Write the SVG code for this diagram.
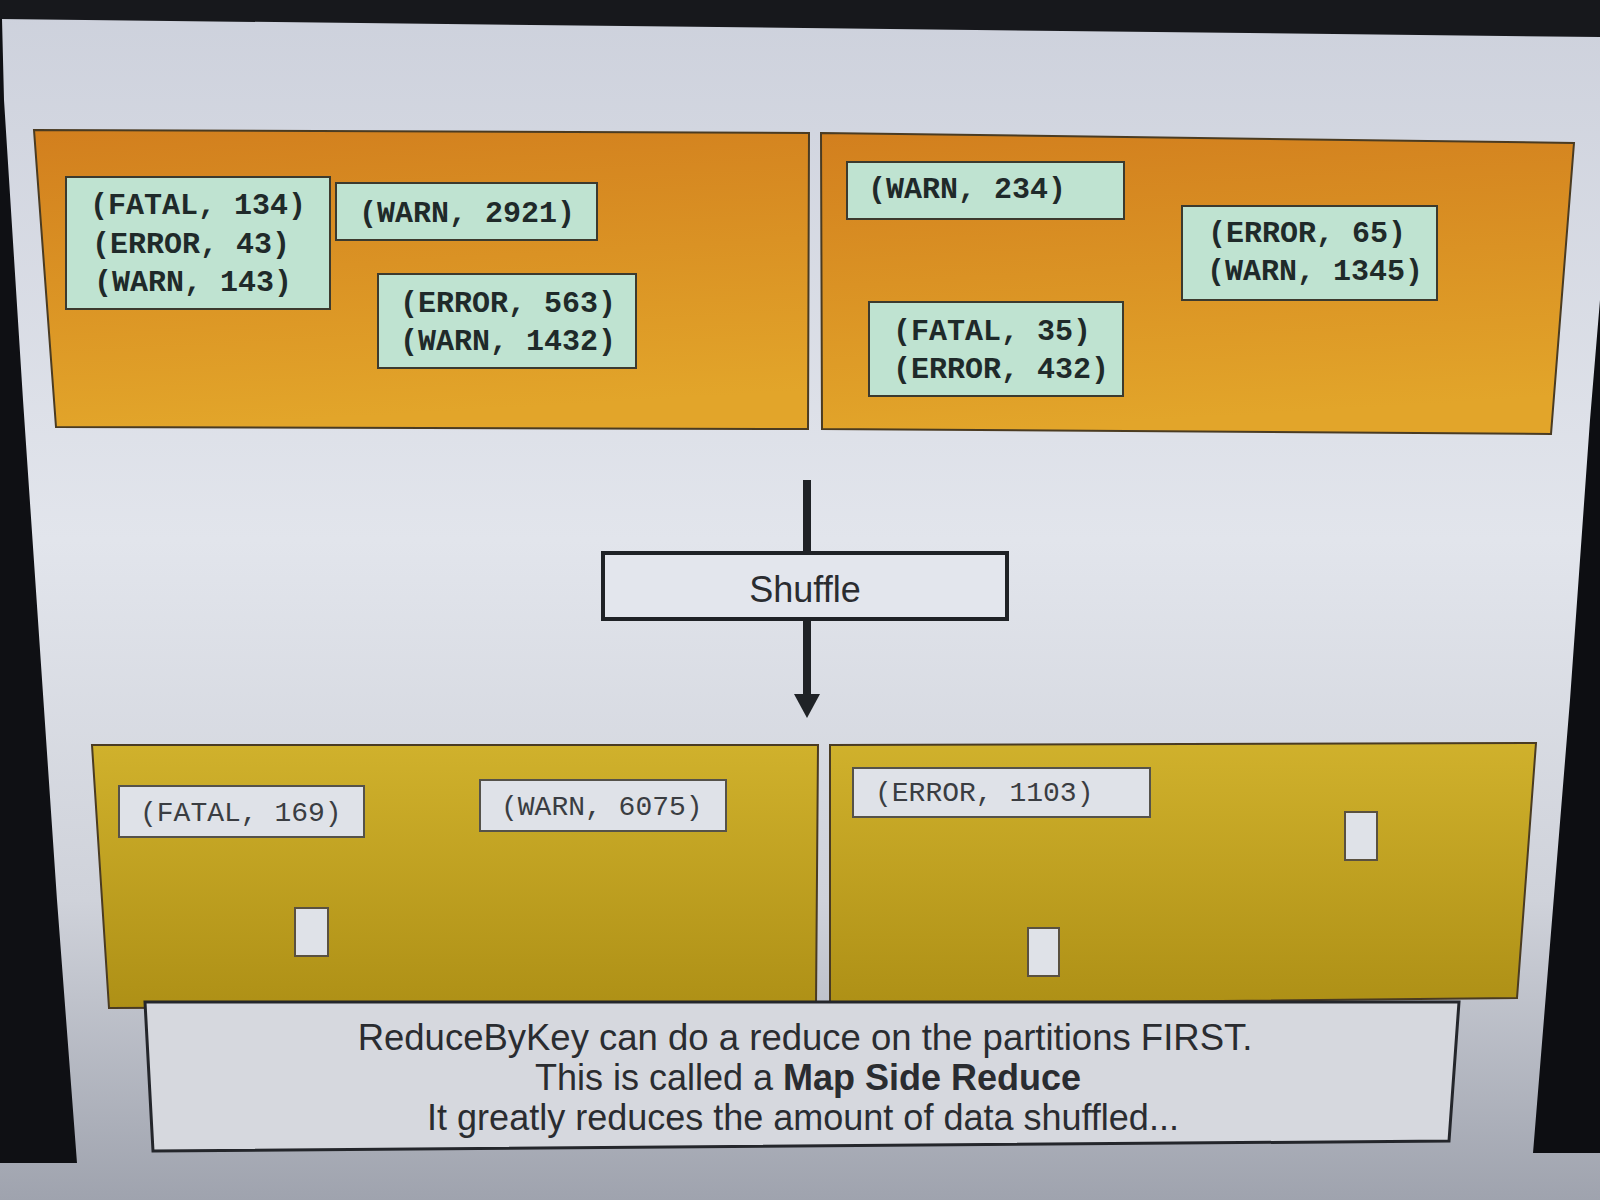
<svg xmlns="http://www.w3.org/2000/svg" width="1600" height="1200" viewBox="0 0 1600 1200">
  <defs>
    <linearGradient id="bg" x1="0" y1="0" x2="0" y2="1">
      <stop offset="0" stop-color="#cdd1dc"/>
      <stop offset="0.45" stop-color="#e2e5ec"/>
      <stop offset="0.75" stop-color="#cfd2da"/>
      <stop offset="1" stop-color="#9fa3ae"/>
    </linearGradient>
    <linearGradient id="orange" x1="0" y1="0" x2="0.15" y2="1">
      <stop offset="0" stop-color="#d27f1e"/>
      <stop offset="1" stop-color="#e2a52a"/>
    </linearGradient>
    <linearGradient id="yellow" x1="0" y1="0" x2="0" y2="1">
      <stop offset="0" stop-color="#d0b12c"/>
      <stop offset="1" stop-color="#ae9016"/>
    </linearGradient>
    <marker id="arrowhead" viewBox="0 0 24 26" refX="1" refY="13" markerWidth="24" markerHeight="26" markerUnits="userSpaceOnUse" orient="auto">
      <path d="M0,0 L24,13 L0,26 Z" fill="#1f2226"/>
    </marker>
    <style>
      .part { stroke: #4a3b22; stroke-width: 2; }
      .top { fill: url(#orange); }
      .bot { fill: url(#yellow); }
      .kv { fill: #bfe3d1; stroke: #3c3a2e; stroke-width: 2; }
      .kvr { fill: #dfe2e8; stroke: #55524a; stroke-width: 2; }
      .blank { fill: #dfe2e8; stroke: #5a5140; stroke-width: 2; }
      .mono { font-family: "Liberation Mono", "DejaVu Sans Mono", monospace; font-size: 30px; font-weight: bold; fill: #1f2a2a; }
      .monor { font-family: "Liberation Mono", "DejaVu Sans Mono", monospace; font-size: 28px; fill: #3a3d42; }
      .sans { font-family: "Liberation Sans", Arial, sans-serif; fill: #2a2c30; }
      .conn { stroke: #1f2226; stroke-width: 8; fill: none; }
    </style>
  </defs>

  <!-- screen background -->
  <rect x="0" y="0" width="1600" height="1200" fill="url(#bg)"/>
  <polygon points="0,0 1600,0 1600,37 0,19" fill="#17181c"/>
  <polygon points="0,19 2,19 4,100 23,400 40,650 57,900 77,1163 0,1163" fill="#0f1014"/>
  <polygon points="1600,300 1590,420 1570,700 1533,1153 1600,1153" fill="#0d0e12"/>

  <!-- connectors -->
  <g id="connectors">
    <line class="conn" x1="807" y1="480" x2="807" y2="695" marker-end="url(#arrowhead)"/>
  </g>

  <!-- map partitions -->
  <g id="partition-top-left">
    <polygon class="part top" points="34,130 809,133 808,429 56,427"/>
    <g id="kv-tl-1">
      <rect class="kv" x="66" y="177" width="264" height="132"/>
      <text class="mono" x="90" y="214">(FATAL, 134)</text>
      <text class="mono" x="92" y="253">(ERROR, 43)</text>
      <text class="mono" x="94" y="291">(WARN, 143)</text>
    </g>
    <g id="kv-tl-2">
      <rect class="kv" x="336" y="183" width="261" height="57"/>
      <text class="mono" x="359" y="222">(WARN, 2921)</text>
    </g>
    <g id="kv-tl-3">
      <rect class="kv" x="378" y="274" width="258" height="94"/>
      <text class="mono" x="400" y="312">(ERROR, 563)</text>
      <text class="mono" x="400" y="350">(WARN, 1432)</text>
    </g>
  </g>

  <g id="partition-top-right">
    <polygon class="part top" points="821,133 1574,143 1551,434 822,429"/>
    <g id="kv-tr-1">
      <rect class="kv" x="847" y="162" width="277" height="57"/>
      <text class="mono" x="868" y="198">(WARN, 234)</text>
    </g>
    <g id="kv-tr-2">
      <rect class="kv" x="1182" y="206" width="255" height="94"/>
      <text class="mono" x="1208" y="242">(ERROR, 65)</text>
      <text class="mono" x="1207" y="280">(WARN, 1345)</text>
    </g>
    <g id="kv-tr-3">
      <rect class="kv" x="869" y="302" width="254" height="94"/>
      <text class="mono" x="893" y="340">(FATAL, 35)</text>
      <text class="mono" x="893" y="378">(ERROR, 432)</text>
    </g>
  </g>

  <!-- shuffle -->
  <g id="shuffle">
    <rect x="603" y="553" width="404" height="66" fill="#e3e6ed" stroke="#1f2226" stroke-width="4"/>
    <text class="sans" x="805" y="602" font-size="36" text-anchor="middle">Shuffle</text>
  </g>

  <!-- reduce partitions -->
  <g id="partition-bottom-left">
    <polygon class="part bot" points="92,745 818,745 816,1005 109,1008"/>
    <g id="kv-bl-1">
      <rect class="kvr" x="119" y="786" width="245" height="51"/>
      <text class="monor" x="140" y="821">(FATAL, 169)</text>
    </g>
    <g id="kv-bl-2">
      <rect class="kvr" x="480" y="780" width="246" height="51"/>
      <text class="monor" x="501" y="815">(WARN, 6075)</text>
    </g>
    <rect id="slot-bl" class="blank" x="295" y="908" width="33" height="48"/>
  </g>

  <g id="partition-bottom-right">
    <polygon class="part bot" points="830,745 1536,743 1517,998 830,1005"/>
    <g id="kv-br-1">
      <rect class="kvr" x="853" y="768" width="297" height="49"/>
      <text class="monor" x="875" y="801">(ERROR, 1103)</text>
    </g>
    <rect id="slot-br-1" class="blank" x="1345" y="812" width="32" height="48"/>
    <rect id="slot-br-2" class="blank" x="1028" y="928" width="31" height="48"/>
  </g>

  <!-- note -->
  <g id="note">
    <polygon points="145,1002 1459,1002 1449,1141 153,1151" fill="#d6d8de" stroke="#24262b" stroke-width="3"/>
    <text class="sans" x="805" y="1050" font-size="36.5" text-anchor="middle" fill="#4a4c52">ReduceByKey can do a reduce on the partitions FIRST.</text>
    <text class="sans" x="808" y="1090" font-size="36" text-anchor="middle">This is called a <tspan font-weight="bold">Map Side Reduce</tspan></text>
    <text class="sans" x="803" y="1130" font-size="36" text-anchor="middle">It greatly reduces the amount of data shuffled...</text>
  </g>
</svg>
